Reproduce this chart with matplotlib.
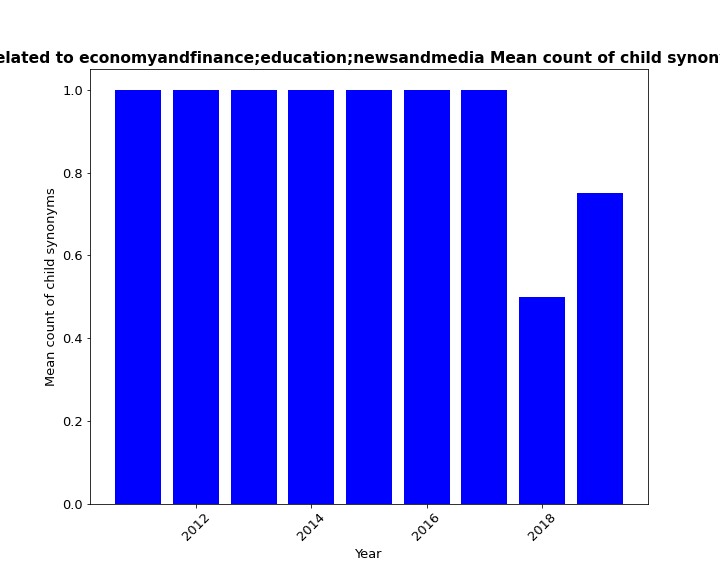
import matplotlib
matplotlib.use("Agg")
import matplotlib.pyplot as plt

years = [2011, 2012, 2013, 2014, 2015, 2016, 2017, 2018, 2019]
means = [1.0, 1.0, 1.0, 1.0, 1.0, 1.0, 1.0, 0.5, 0.75]

fig, ax = plt.subplots(figsize=(10, 8), dpi=72)
fig.subplots_adjust(left=0.125, right=0.9, top=0.88, bottom=0.125)
ax.bar(years, means, color="blue")
ax.set_title("Related to economyandfinance;education;newsandmedia Mean count of child synonyms",
             fontsize=15.5, fontweight="bold")
ax.set_xlabel("Year", fontsize=13)
ax.set_ylabel("Mean count of child synonyms", fontsize=13)
ax.tick_params(labelsize=13)
ax.tick_params(axis="x", rotation=45)
fig.savefig("out.png")
